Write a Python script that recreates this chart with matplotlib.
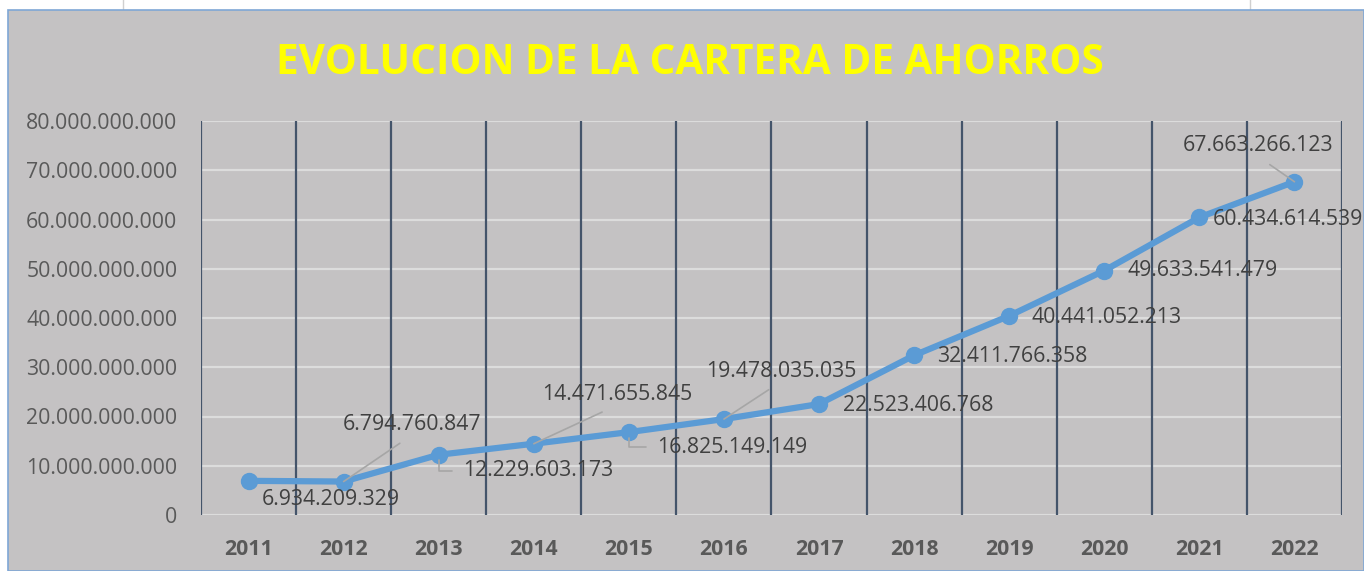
import matplotlib
matplotlib.use("Agg")
import matplotlib.pyplot as plt
from matplotlib.patches import Rectangle
from matplotlib.lines import Line2D
from matplotlib.ticker import FuncFormatter

# --- Data ---
years = ["2011", "2012", "2013", "2014", "2015", "2016",
         "2017", "2018", "2019", "2020", "2021", "2022"]
savings = [6934209329, 6794760847, 12229603173, 14471655845, 16825149149,
           19478035035, 22523406768, 32411766358, 40441052213, 49633541479,
           60434614539, 67663266123]

# --- Style ---
BG = "#C4C2C3"
LINE = "#5B9BD5"
GRID_V = "#44546A"
GRID_H = "#DCDCDC"
TEXT = "#595959"
LABEL = "#404040"
LEADER = "#A6A6A6"
FONT = "Open Sans"


def fmt(v, pos=None):
    return f"{int(round(v)):,}".replace(",", ".")


fig = plt.figure(figsize=(13.64, 5.71), dpi=100, facecolor="white")
W, H = 1364, 571

# chart area frame (like the Excel chart box)
fig.patches.append(Rectangle((8 / W, 0), 1 - 8 / W, (H - 10) / H,
                             transform=fig.transFigure, facecolor=BG,
                             edgecolor="#7FA7D6", linewidth=1.2, zorder=-5))
fig.lines.append(Line2D([123 / W, 123 / W], [(H - 10) / H, 1],
                        transform=fig.transFigure, color="#D0D0D0", lw=1, zorder=-5))
fig.lines.append(Line2D([1250 / W, 1250 / W], [(H - 10) / H, 1],
                        transform=fig.transFigure, color="#D0D0D0", lw=1, zorder=-5))

ax = fig.add_axes([201 / W, 56 / H, 1141 / W, 394 / H])
ax.patch.set_alpha(0)
x = list(range(len(years)))
ax.set_xlim(-0.5, len(years) - 0.5)
ax.set_ylim(0, 80e9)

# gridlines
for yv in range(10, 90, 10):
    ax.axhline(yv * 1e9, color=GRID_H, lw=1.6, zorder=1)
ax.axhline(0, color=GRID_H, lw=1.6, zorder=1)
for k in range(len(years) + 1):
    ax.axvline(k - 0.5, color=GRID_V, lw=1.6, zorder=2)

for s in ax.spines.values():
    s.set_visible(False)

ax.set_yticks([i * 10e9 for i in range(9)])
ax.yaxis.set_major_formatter(FuncFormatter(fmt))
ax.set_xticks(x)
ax.set_xticklabels(years)
ax.tick_params(axis="y", length=0, pad=17, labelsize=15.3, labelcolor=TEXT)
ax.tick_params(axis="x", length=0, pad=17, labelsize=15.3, labelcolor=TEXT)
for t in ax.get_yticklabels():
    t.set_fontfamily(FONT)
for t in ax.get_xticklabels():
    t.set_fontfamily(FONT)
    t.set_fontweight("bold")

ax.plot(x, savings, color=LINE, lw=4.5, marker="o", markersize=11.5,
        solid_capstyle="round", zorder=4, clip_on=False)

# data labels: (dx, dy) offset in pixels, leader style
offsets = [(13, -19), (-1, 57), (24, -16), (8, 49), (28, -15), (-18, 48),
           (24, -1), (23, -1), (22, -2), (23, 0), (13, -2), (-112, 36)]
leaders = [None, "up", "elbow", "up", "elbow", "up",
           None, None, None, None, None, "up"]

for xi, v, (dx, dy), ld in zip(x, savings, offsets, leaders):
    kw = dict(xy=(xi, v), xytext=(dx, dy), textcoords="offset pixels",
              ha="left", va="center", fontsize=15.3, color=LABEL,
              fontfamily=FONT, zorder=5, annotation_clip=False)
    if ld == "up":
        kw["arrowprops"] = dict(arrowstyle="-", color=LEADER, lw=1.2,
                                relpos=(0.5, 0.0), shrinkA=7, shrinkB=0)
    elif ld == "elbow":
        kw["arrowprops"] = dict(arrowstyle="-", color=LEADER, lw=1.2,
                                relpos=(0.0, 0.5), shrinkA=6, shrinkB=4,
                                connectionstyle="angle,angleA=180,angleB=90,rad=0")
    ax.annotate(fmt(v), **kw)

fig.text(690 / W, 1 - 63 / H, "EVOLUCION DE LA CARTERA DE AHORROS",
         ha="center", va="center", fontsize=29.2, fontweight="bold",
         color="#FFFF00", fontfamily=FONT)

fig.savefig("out.png", dpi=100, facecolor=fig.get_facecolor())
